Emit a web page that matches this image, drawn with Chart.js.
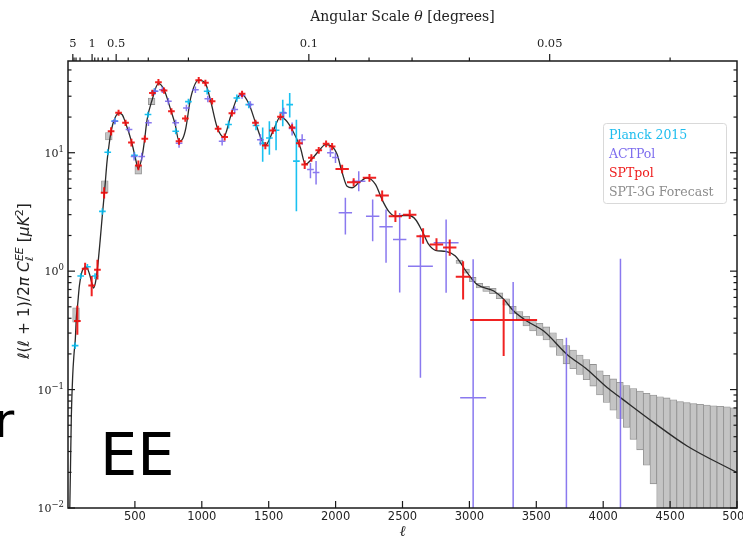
<!DOCTYPE html>
<html>
<head>
<meta charset="utf-8">
<title>EE power spectrum</title>
<script src="https://cdn.jsdelivr.net/npm/chart.js@4.4.0/dist/chart.umd.min.js"></script>
<style>
  body { margin: 0; background: #fff; }
  canvas { display: block; }
</style>
</head>
<body>
<canvas id="ee" width="743" height="540"></canvas>
<script>
// best-fit LCDM EE spectrum, D_l in uK^2
const theoryEll = [12, 18, 25, 35, 45, 55, 62, 72, 85, 100, 120, 140, 160, 180, 190, 205, 220, 240, 257, 275,
  292, 304, 317, 342, 379, 404, 429, 474, 504, 524, 554, 571, 591, 629, 676, 718, 768, 800, 830, 855,
  880, 917, 977, 1027, 1064, 1114, 1164, 1214, 1264, 1301, 1351, 1401, 1446, 1475, 1530, 1588, 1625, 1675, 1737, 1774,
  1824, 1879, 1924, 1974, 2011, 2049, 2086, 2123, 2173, 2235, 2298, 2348, 2397, 2447, 2500, 2547, 2597, 2647, 2696, 2746,
  2821, 2895, 2983, 3058, 3182, 3256, 3331, 3431, 3555, 3730, 3880, 4029, 4129, 4378, 4627, 5000];
const theoryDl = [0.008, 0.02, 0.06, 0.13, 0.2, 0.27, 0.4, 0.52, 0.75, 0.95, 1.06, 1.07, 0.95, 0.78, 0.72, 0.8, 1.05, 1.8, 3.0, 5.0,
  8.5, 11, 14, 18.5, 21.5, 21, 18, 12.5, 9, 7.3, 9.3, 12.5, 19, 28, 38.5, 34, 23, 17.5, 12.5, 13,
  16, 29, 41, 38.5, 28, 16.5, 13.6, 20, 29, 31, 26, 18, 12.9, 11.5, 15, 20.1, 19, 15.7, 11, 8,
  8.9, 10.5, 11.7, 11.3, 9.7, 6.8, 5.2, 5.06, 5.57, 6.14, 5.4, 4.0, 3.2, 2.91, 2.95, 2.95, 2.73, 2.18, 1.68, 1.5,
  1.47, 1.34, 0.97, 0.77, 0.68, 0.58, 0.46, 0.378, 0.312, 0.198, 0.148, 0.104, 0.0855, 0.0526, 0.0334, 0.0199];

// Planck 2015 bandpowers
const planckEll = [53, 95, 145, 202, 257, 297, 350, 497, 598, 645, 805, 900, 1040, 1200, 1262, 1351, 1405, 1455, 1505, 1555, 1605, 1657, 1707];
const planckDl = [0.235, 0.91, 1.09, 0.91, 3.2, 10.1, 18.5, 9.5, 21, 33, 15.2, 27, 33, 17.3, 29, 25.5, 17, 12, 13.3, 15.5, 21.8, 25.5, 8.5];
const planckLo = [0.22, 0.86, 1.03, 0.86, 3.0, 9.5, 17.4, 8.9, 19.8, 31, 14.3, 25.5, 31, 16, 27, 23.8, 15.5, 8.4, 9.6, 10.5, 16.7, 19.8, 3.2];
const planckHi = [0.25, 0.96, 1.15, 0.96, 3.4, 10.7, 19.6, 10.1, 22.2, 35, 16.1, 28.5, 35, 18.6, 31, 27.2, 18.5, 16.3, 18.4, 18.5, 28, 32, 19];
const planckHalfBin = 25;

// ACTPol bandpowers
const actEll = [350, 456, 494, 551, 601, 651, 705, 750, 805, 830, 885, 952, 1045, 1152, 1246, 1301, 1363, 1438, 1612, 1675,
  1750, 1812, 1854, 1961, 1999, 2073, 2173, 2277, 2377, 2479, 2634, 2826, 3028, 3327, 3725, 4129];
const actDl = [18.4, 15.7, 9.3, 9.3, 17.9, 33, 34, 27.2, 17.9, 12, 23.9, 34.1, 28.5, 12.5, 23.2, 30.4, 25.5, 12.9, 21.7, 16,
  12.9, 7.2, 6.8, 10, 9.1, 3.11, 5.75, 2.91, 2.37, 1.85, 1.1, 1.74, 0.0855, 0.004, 0.004, 0.004];
const actLo = [17.4, 14.8, 8.6, 8.6, 16.8, 31, 32, 25.5, 16.8, 11, 22.4, 32, 26.7, 11.5, 21.7, 28.5, 23.8, 11.5, 19.5, 14,
  11.7, 6.1, 5.4, 9.2, 8.2, 2.04, 4.73, 1.79, 1.18, 0.66, 0.126, 0.657, 0.001, 0.001, 0.001, 0.001];
const actHi = [19.5, 16.6, 10.0, 10.0, 19, 35, 36, 29, 19, 13, 25.4, 36.2, 30.3, 13.5, 24.7, 32.3, 27.2, 14.3, 24, 18,
  14.3, 8.2, 8.5, 10.9, 10, 4.16, 6.98, 4.03, 3.32, 3.1, 2.04, 2.73, 1.26, 0.81, 0.274, 1.27];
const actHalfBin = [25, 25, 25, 25, 25, 25, 25, 25, 25, 25, 25, 25, 25, 25, 25, 25, 25, 25, 25, 25,
  25, 25, 25, 25, 25, 50, 50, 50, 50, 50, 93, 93, 97, 100, 100, 100];

// SPTpol bandpowers
const sptEll = [70, 128, 177, 220, 270, 322, 378, 430, 474, 526, 574, 631, 676, 718, 773, 830, 877, 977, 1027, 1077,
  1122, 1171, 1225, 1301, 1401, 1475, 1530, 1588, 1675, 1729, 1769, 1819, 1874, 1929, 1974, 2049, 2135, 2253, 2348, 2447,
  2554, 2654, 2754, 2853, 2953, 3256];
const sptDl = [0.38, 1.05, 0.757, 1.03, 4.6, 15.2, 21.8, 17.9, 12.2, 7.8, 13.1, 32, 39.4, 33.5, 22.4, 12.5, 19.5, 41, 38.9, 27.2,
  15.9, 13.6, 21.5, 31.4, 17.9, 11.5, 15.4, 20.1, 16.3, 12, 7.95, 9.06, 10.5, 11.9, 11.3, 7.3, 5.64, 6.14, 4.35, 2.91,
  3.0, 1.97, 1.68, 1.58, 0.897, 0.386];
const sptLo = [0.29, 0.93, 0.615, 0.85, 4.1, 14, 20.5, 16.8, 11.3, 7.1, 12.2, 30, 37, 31.5, 21, 11.7, 18.3, 38.5, 36.5, 25.5,
  14.9, 12.7, 20.2, 29.5, 16.8, 10.7, 14.4, 18.8, 15.2, 11.1, 7.3, 8.4, 9.8, 11.1, 10.5, 6.7, 5.2, 5.7, 3.9, 2.6,
  2.75, 1.7, 1.5, 1.35, 0.577, 0.192];
const sptHi = [0.51, 1.18, 0.908, 1.25, 5.1, 16.4, 23.1, 19, 13.1, 8.6, 14, 34, 42, 35.5, 23.8, 13.3, 20.7, 43.5, 41.3, 29,
  16.9, 14.5, 22.8, 33.3, 19, 12.3, 16.4, 21.4, 17.4, 12.9, 8.6, 9.7, 11.2, 12.7, 12.1, 7.9, 6.1, 6.6, 4.8, 3.25,
  3.3, 2.3, 1.9, 1.85, 1.21, 0.577];
const sptHalfBin = [25, 25, 25, 25, 25, 25, 25, 25, 25, 25, 25, 25, 25, 25, 25, 25, 25, 25, 25, 25,
  25, 25, 25, 25, 25, 25, 25, 25, 25, 25, 25, 25, 25, 25, 25, 50, 50, 50, 50, 50,
  50, 50, 50, 50, 55, 250];

// SPT-3G forecast bins (lower / upper edge of each band)
const boxEll = [60, 275, 305, 525, 625,
  2925, 2975, 3025, 3075, 3125, 3175, 3225, 3275, 3325, 3375, 3425, 3475, 3525, 3575, 3625, 3675, 3725, 3775, 3825, 3875,
  3925, 3975, 4025, 4075, 4125, 4175, 4225, 4275, 4325, 4375, 4425, 4475, 4525, 4575, 4625, 4675, 4725, 4775, 4825, 4875,
  4925, 4975];
const boxLo = [0.37, 4.6, 12.8, 6.6, 25.5,
  1.16, 0.96, 0.815, 0.72, 0.675, 0.645, 0.585, 0.515, 0.435, 0.385, 0.345, 0.313, 0.287, 0.262, 0.228, 0.194, 0.165, 0.15, 0.134, 0.121,
  0.107, 0.09, 0.078, 0.067, 0.057, 0.048, 0.038, 0.031, 0.023, 0.016, 0.009, 0.001, 0.001, 0.001, 0.001, 0.001, 0.001, 0.001, 0.001, 0.001,
  0.001, 0.001];
const boxHi = [0.49, 5.8, 14.8, 7.8, 29,
  1.24, 1.04, 0.885, 0.79, 0.745, 0.715, 0.655, 0.585, 0.505, 0.455, 0.415, 0.387, 0.363, 0.338, 0.302, 0.266, 0.235, 0.216, 0.196, 0.179,
  0.163, 0.144, 0.132, 0.123, 0.115, 0.108, 0.102, 0.097, 0.093, 0.09, 0.087, 0.085, 0.082, 0.079, 0.0775, 0.076, 0.075, 0.074, 0.073, 0.0722,
  0.0715, 0.0702];

// axis ticks
const xTickValues = [500, 1000, 1500, 2000, 2500, 3000, 3500, 4000, 4500, 5000];
const yTickValues = [0.01, 0.1, 1, 10];
const yTickExp = ['\u22122', '\u22121', '0', '1'];
const thetaMajor = [5, 1, 0.5, 0.1, 0.05];
const thetaMinor = [4, 3, 2, 0.9, 0.8, 0.7, 0.6, 0.4, 0.3, 0.2, 0.09, 0.08, 0.07, 0.06, 0.04];

const legendItems = [
  { text: 'Planck 2015', color: '#1fbdee' },
  { text: 'ACTPol', color: '#7c6cee' },
  { text: 'SPTpol', color: '#ee1c1c' },
  { text: 'SPT-3G Forecast', color: '#8c8c8c' }
];

// vertical + horizontal bar per point, separated by gaps
function crossPoints(ell, dl, lo, hi, half) {
  const pts = [];
  for (let i = 0; i < ell.length; i++) {
    const h = Array.isArray(half) ? half[i] : half;
    pts.push({ x: ell[i], y: lo[i] }, { x: ell[i], y: hi[i] }, { x: ell[i], y: null });
    pts.push({ x: ell[i] - h, y: dl[i] }, { x: ell[i] + h, y: dl[i] }, { x: ell[i], y: null });
  }
  return pts;
}

function errorSet(label, pts, color, width, order) {
  return {
    label: label,
    data: pts,
    borderColor: color,
    borderWidth: width,
    borderCapStyle: 'butt',
    pointRadius: 0,
    spanGaps: false,
    tension: 0,
    fill: false,
    order: order
  };
}

// draws a run of text pieces with their own fonts and baseline shifts
function runPieces(ctx, pieces, x, y, draw) {
  let cx = x, lastStart = x;
  pieces.forEach(p => {
    ctx.font = p.f;
    const w = ctx.measureText(p.t).width;
    if (p.stack) {
      if (draw) ctx.fillText(p.t, lastStart, y + (p.dy || 0));
      cx = Math.max(cx, lastStart + w);
    } else {
      if (draw) ctx.fillText(p.t, cx, y + (p.dy || 0));
      lastStart = cx;
      cx += w;
    }
  });
  return cx - x;
}

function seg(ctx, x1, y1, x2, y2) {
  ctx.beginPath();
  ctx.moveTo(x1, y1);
  ctx.lineTo(x2, y2);
  ctx.stroke();
}

const serif = '"DejaVu Serif", serif';
const sans = '"DejaVu Sans", sans-serif';

const axesPlugin = {
  id: 'eeAxes',
  beforeDraw(chart) {
    const ctx = chart.ctx;
    ctx.save();
    ctx.fillStyle = '#fff';
    ctx.fillRect(0, 0, chart.width, chart.height);
    ctx.restore();
  },
  afterDraw(chart) {
    const { ctx, chartArea: a, scales: { x, y } } = chart;
    ctx.save();

    // frame
    ctx.strokeStyle = '#1a1a1a';
    ctx.lineWidth = 1.5;
    ctx.strokeRect(a.left, a.top, a.right - a.left, a.bottom - a.top);

    ctx.lineWidth = 1.2;
    ctx.fillStyle = '#222';

    // bottom axis
    ctx.font = '11.5px ' + sans;
    ctx.textAlign = 'center';
    ctx.textBaseline = 'alphabetic';
    xTickValues.forEach(v => {
      const px = x.getPixelForValue(v);
      seg(ctx, px, a.bottom, px, a.bottom - 7);
      ctx.fillText(String(v), px, 520);
    });

    // left and right log axes
    for (let k = -2; k <= 1; k++) {
      for (let m = 1; m <= 9; m++) {
        const v = m * Math.pow(10, k);
        if (v > y.max) break;
        const py = y.getPixelForValue(v);
        const len = m === 1 ? 7 : 3.5;
        seg(ctx, a.left, py, a.left + len, py);
        seg(ctx, a.right, py, a.right - len, py);
      }
    }
    yTickValues.forEach((v, i) => {
      const py = y.getPixelForValue(v);
      ctx.textAlign = 'left';
      ctx.font = '8.5px ' + serif;
      const supW = ctx.measureText(yTickExp[i]).width;
      ctx.font = '11px ' + serif;
      const baseW = ctx.measureText('10').width;
      const right = 64;
      ctx.fillText('10', right - supW - baseW, py + 4);
      ctx.font = '8.5px ' + serif;
      ctx.fillText(yTickExp[i], right - supW, py - 1);
    });

    // top axis in angular scale, theta = 180 / ell
    ctx.textAlign = 'center';
    ctx.font = '11.5px ' + serif;
    thetaMajor.forEach(t => {
      const px = x.getPixelForValue(180 / t);
      seg(ctx, px, a.top, px, a.top - 7);
      ctx.fillText(String(t), px, 47);
    });
    thetaMinor.forEach(t => {
      const px = x.getPixelForValue(180 / t);
      seg(ctx, px, a.top, px, a.top - 3.5);
    });

    // top title
    ctx.textAlign = 'left';
    const title = [
      { t: 'Angular Scale ', f: '14px ' + serif },
      { t: '\u03b8', f: 'italic 14px ' + serif },
      { t: ' [degrees]', f: '14px ' + serif }
    ];
    const tw = runPieces(ctx, title, 0, 0, false);
    runPieces(ctx, title, (a.left + a.right) / 2 - tw / 2, 21, true);

    // x label
    ctx.font = 'italic 15px ' + serif;
    ctx.textAlign = 'center';
    ctx.fillText('\u2113', (a.left + a.right) / 2, 536);

    // y label
    ctx.textAlign = 'left';
    const it = 'oblique 15.5px ' + sans, rm = '15.5px ' + sans;
    const itS = 'oblique 11px ' + sans, rmS = '11px ' + sans;
    const ylab = [
      { t: '\u2113', f: it }, { t: '(', f: rm }, { t: '\u2113', f: it }, { t: ' + 1)/2', f: rm },
      { t: '\u03c0', f: it }, { t: ' ', f: rm }, { t: 'C', f: it },
      { t: '\u2113', f: itS, dy: 3.5 }, { t: 'EE', f: itS, dy: -6.5, stack: true },
      { t: ' [', f: rm }, { t: '\u03bc', f: it }, { t: 'K', f: it }, { t: '2', f: rmS, dy: -6.5 }, { t: ']', f: rm }
    ];
    const yw = runPieces(ctx, ylab, 0, 0, false);
    ctx.save();
    ctx.translate(29, 281);
    ctx.rotate(-Math.PI / 2);
    runPieces(ctx, ylab, -yw / 2, 0, true);
    ctx.restore();

    // legend
    ctx.fillStyle = 'rgba(255,255,255,0.85)';
    ctx.strokeStyle = '#d9d9d9';
    ctx.lineWidth = 1;
    ctx.beginPath();
    ctx.roundRect(603.5, 123.5, 123, 80, 3);
    ctx.fill();
    ctx.stroke();
    ctx.font = '12.5px ' + serif;
    legendItems.forEach((item, i) => {
      ctx.fillStyle = item.color;
      ctx.fillText(item.text, 609, 138.5 + i * 19.2);
    });

    // panel tag and neighbouring panel's clipped label
    ctx.fillStyle = '#000';
    ctx.font = '59px "DejaVu Sans", sans-serif';
    ctx.fillText('EE', 100, 475);
    ctx.font = '48px "DejaVu Sans", sans-serif';
    ctx.fillText('r', -5.5, 437);

    ctx.restore();
  }
};

new Chart(document.getElementById('ee'), {
  type: 'line',
  data: {
    datasets: [
      {
        type: 'bar',
        label: 'SPT-3G Forecast',
        data: boxEll.map((l, i) => ({ x: l, y: [boxLo[i], boxHi[i]] })),
        backgroundColor: '#c4c4c4',
        borderColor: '#909090',
        borderWidth: 0.8,
        borderSkipped: false,
        barThickness: 6.7,
        order: 4
      },
      {
        label: 'theory',
        data: theoryEll.map((l, i) => ({ x: l, y: theoryDl[i] })),
        borderColor: '#2a2a2a',
        borderWidth: 1.3,
        pointRadius: 0,
        cubicInterpolationMode: 'monotone',
        fill: false,
        order: 3
      },
      errorSet('Planck 2015', crossPoints(planckEll, planckDl, planckLo, planckHi, planckHalfBin), 'rgba(0,186,240,0.9)', 1.6, 2),
      errorSet('ACTPol', crossPoints(actEll, actDl, actLo, actHi, actHalfBin), 'rgba(118,98,236,0.85)', 1.5, 1),
      errorSet('SPTpol', crossPoints(sptEll, sptDl, sptLo, sptHi, sptHalfBin), 'rgba(238,10,10,0.9)', 2, 0)
    ]
  },
  options: {
    responsive: false,
    animation: false,
    devicePixelRatio: 1,
    events: [],
    layout: { padding: { left: 68, right: 6, top: 61, bottom: 32 } },
    scales: {
      x: { type: 'linear', min: 0, max: 5000, offset: false, display: false },
      y: { type: 'logarithmic', min: 0.01, max: 59.5, display: false }
    },
    plugins: {
      legend: { display: false },
      tooltip: { enabled: false }
    }
  },
  plugins: [axesPlugin]
});
</script>
</body>
</html>
